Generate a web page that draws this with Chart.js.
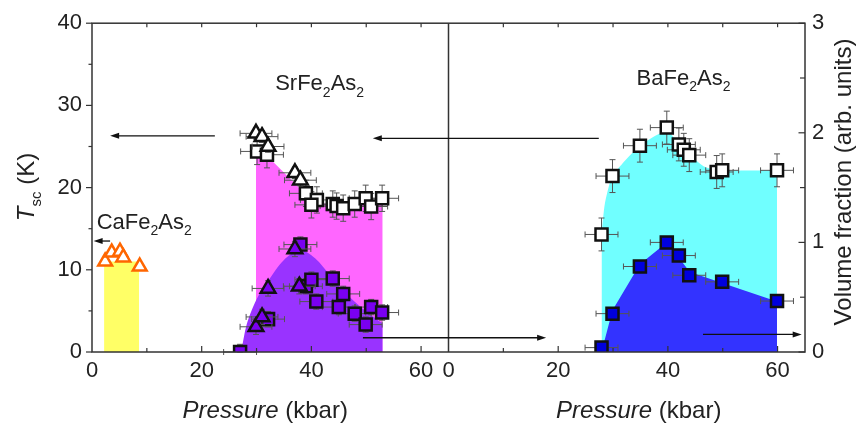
<!DOCTYPE html>
<html>
<head>
<meta charset="utf-8">
<script src="https://cdn.jsdelivr.net/npm/chart.js@4.4.0/dist/chart.umd.min.js"></script>
<style>
  html, body { margin: 0; padding: 0; background: #fff; }
</style>
</head>
<body>
<canvas id="chart" width="858" height="425"></canvas>
<script>
// axe x commun : panneau gauche 0-65, panneau BaFe2As2 decale de 65
const SHIFT = 65;
const X_MAX = 130;

const xTickLabels = [0, 20, 40, 60];
const tscMax = 40;
const volMax = 3;

// CaFe2As2 (Tsc)
const caP = [2.4, 3.6, 5.1, 5.7, 8.7];
const caTsc = [11.0, 12.1, 12.2, 11.5, 10.4];

// SrFe2As2 (Tsc)
const srTriP = [29.9, 31.0, 32.1, 37.0, 38.0];
const srTriTsc = [26.6, 26.2, 25.0, 21.8, 20.9];
const srSqP = [30.1, 31.9, 39.0, 41.0, 40.0, 43.9, 44.6, 45.8, 47.9, 49.9, 50.9, 52.9];
const srSqTsc = [24.4, 24.0, 19.3, 18.5, 17.9, 18.0, 17.75, 17.5, 18.0, 18.7, 17.7, 18.7];

// SrFe2As2 (fraction volumique)
const srTriVolP = [29.9, 31.0, 32.1, 37.0, 37.8];
const srTriVol = [0.23, 0.32, 0.58, 0.94, 0.60];
const srSqVolP = [27.0, 32.1, 38.0, 39.0, 40.0, 40.9, 43.9, 45.8, 45.0, 47.9, 49.9, 50.9, 52.9];
const srSqVol = [0.0, 0.30, 0.98, 0.60, 0.66, 0.46, 0.67, 0.53, 0.41, 0.35, 0.25, 0.41, 0.36];

// BaFe2As2
const baP = [27.9, 29.9, 34.9, 39.8, 42.0, 42.9, 43.9, 48.9, 49.9, 59.9];
const baTsc = [14.3, 21.4, 25.1, 27.3, 25.25, 24.6, 23.95, 21.9, 22.1, 22.1];
const baVolP = [27.9, 29.9, 34.9, 39.8, 42.0, 43.9, 49.9, 59.9];
const baVol = [0.04, 0.35, 0.78, 1.0, 0.88, 0.70, 0.64, 0.465];

// zones colorees
const caZoneP = [2.2, 8.6];
const caZoneT = [11, 11];
const srZoneP = [29.9, 32, 37, 40, 45, 50, 53];
const srZoneT = [24.4, 23.8, 20.5, 18.3, 17.8, 18.2, 18.5];
const srVolZoneP = [27.2, 28.2, 29.9, 32, 35, 38, 41, 44, 47, 50, 53];
const srVolZone = [0, 0.25, 0.47, 0.64, 0.84, 0.93, 0.84, 0.66, 0.50, 0.37, 0.26];
const baZoneP = [27.9, 28.5, 29.9, 34.9, 39.8, 42, 44, 46.5, 49, 59.9];
const baZoneT = [14.3, 18, 21.4, 25.1, 26.9, 25.3, 24, 22.6, 22.1, 22.1];
const baVolZoneP = [27.9, 29.9, 34.9, 39.8, 42, 44, 49.9, 59.9];
const baVolZone = [0, 0.38, 0.8, 1.0, 0.86, 0.73, 0.63, 0.46];

// fleches : [x depart, y depart, x pointe, y pointe, axe]
const arrows = [
  [22.4, 26.3, 3.3, 26.3, 'y'],
  [SHIFT + 27.4, 26.0, 51.2, 26.0, 'y'],
  [3.3, 13.5, 0.3, 13.5, 'y'],
  [49.4, 0.13, 82.8, 0.13, 'y1'],
  [111.4, 0.16, 129.4, 0.16, 'y1']
];

// noms des composes : [morceaux, x, y (ligne de base)]
const compounds = [
  [['SrFe', '2', 'As', '2'], 33.4, 31.85],
  [['BaFe', '2', 'As', '2'], 99.3, 32.5],
  [['CaFe', '2', 'As', '2'], 0.86, 15.0]
];

const FONT = '"Liberation Sans", Arial, Helvetica, sans-serif';

const pts = (xs, ys, shift = 0) => xs.map((x, i) => ({ x: x + shift, y: ys[i] }));

function markers(label, xs, ys, opts) {
  return Object.assign({
    label,
    data: pts(xs, ys, opts.shift || 0),
    showLine: false,
    pointRadius: 8.5,
    pointBorderWidth: 2.5,
    pointBorderColor: '#111',
    pointBackgroundColor: '#fff',
    yAxisID: 'y',
    order: 1
  }, opts);
}

function zone(label, xs, ys, color, opts) {
  return Object.assign({
    label,
    data: pts(xs, ys, opts.shift || 0),
    borderWidth: 0,
    pointRadius: 0,
    fill: 'origin',
    backgroundColor: color,
    yAxisID: 'y',
    order: 10
  }, opts);
}

const datasets = [
  zone('Ca zone', caZoneP, caZoneT, '#ffff66', {}),
  zone('Sr Tsc zone', srZoneP, srZoneT, '#ff66ff', {}),
  zone('Sr vol zone', srVolZoneP, srVolZone, '#9933ff', { yAxisID: 'y1', order: 9, tension: 0.3 }),
  zone('Ba Tsc zone', baZoneP, baZoneT, '#70ffff', { shift: SHIFT, tension: 0.2 }),
  zone('Ba vol zone', baVolZoneP, baVolZone, '#3333ff', { shift: SHIFT, yAxisID: 'y1', order: 9 }),

  markers('Ca Tsc', caP, caTsc, { pointStyle: 'triangle', pointBorderColor: '#ff6600', pointRadius: 8 }),
  markers('Sr Tsc tri', srTriP, srTriTsc, { pointStyle: 'triangle', errX: 2.9, errY: 0.7 }),
  markers('Sr Tsc sq', srSqP, srSqTsc, { pointStyle: 'rect', errX: 3, errY: 1.6 }),
  markers('Sr vol tri', srTriVolP, srTriVol, { pointStyle: 'triangle', yAxisID: 'y1', pointBackgroundColor: '#7a00f0', errX: 2.9, errY: 0.07 }),
  markers('Sr vol sq', srSqVolP, srSqVol, { pointStyle: 'rect', yAxisID: 'y1', pointBackgroundColor: '#7a00f0', errX: 3, errY: 0.07 }),
  markers('Ba Tsc', baP, baTsc, { pointStyle: 'rect', shift: SHIFT, errX: 3, errY: 2 }),
  markers('Ba vol', baVolP, baVol, { pointStyle: 'rect', shift: SHIFT, yAxisID: 'y1', pointBackgroundColor: '#0000dd', errX: 3, errY: 0.03 })
];

function line(ctx, x0, y0, x1, y1) {
  ctx.beginPath();
  ctx.moveTo(x0, y0);
  ctx.lineTo(x1, y1);
  ctx.stroke();
}

// texte avec indices
function richText(ctx, parts, x, y, size, align) {
  const sub = Math.round(size * 0.64);
  const fonts = parts.map(p => p.sub ? sub + 'px ' + FONT : (p.italic ? 'italic ' : '') + size + 'px ' + FONT);
  let w = 0;
  parts.forEach((p, i) => { ctx.font = fonts[i]; w += ctx.measureText(p.t).width; });
  let cx = align === 'center' ? x - w / 2 : x;
  parts.forEach((p, i) => {
    ctx.font = fonts[i];
    ctx.fillText(p.t, cx, y + (p.sub ? size * 0.3 : 0));
    cx += ctx.measureText(p.t).width;
  });
}

const errorBars = {
  id: 'errorBars',
  beforeDatasetDraw(chart, args) {
    const ds = chart.data.datasets[args.index];
    if (!ds.errX && !ds.errY) return;
    const { ctx } = chart;
    const xs = chart.scales.x, ys = chart.scales[ds.yAxisID];
    ctx.save();
    ctx.strokeStyle = '#555';
    ctx.lineWidth = 1;
    const cap = 3;
    ds.data.forEach(p => {
      const px = xs.getPixelForValue(p.x), py = ys.getPixelForValue(p.y);
      const xl = xs.getPixelForValue(p.x - ds.errX), xr = xs.getPixelForValue(p.x + ds.errX);
      const yt = ys.getPixelForValue(p.y + ds.errY), yb = ys.getPixelForValue(Math.max(0, p.y - ds.errY));
      line(ctx, xl, py, xr, py);
      line(ctx, xl, py - cap, xl, py + cap);
      line(ctx, xr, py - cap, xr, py + cap);
      line(ctx, px, yt, px, yb);
      line(ctx, px - cap, yt, px + cap, yt);
      line(ctx, px - cap, yb, px + cap, yb);
    });
    ctx.restore();
  }
};

const decor = {
  id: 'decor',
  afterDatasetsDraw(chart) {
    const { ctx, chartArea: a } = chart;
    const { x, y, y1 } = chart.scales;
    ctx.save();
    ctx.strokeStyle = '#333';
    ctx.lineWidth = 1.5;
    ctx.strokeRect(a.left, a.top, a.right - a.left, a.bottom - a.top);
    const xs = x.getPixelForValue(SHIFT);
    line(ctx, xs, a.top, xs, a.bottom);

    ctx.lineWidth = 1.2;
    for (const off of [0, SHIFT]) {
      for (let p = 10; p <= 60; p += 10) {
        const px = x.getPixelForValue(p + off);
        const len = p % 20 === 0 ? 6 : 4;
        line(ctx, px, a.bottom, px, a.bottom - len);
        line(ctx, px, a.top, px, a.top + 4);
      }
    }
    for (let t = 0; t <= tscMax; t += 5) {
      const py = y.getPixelForValue(t);
      line(ctx, a.left - (t % 10 === 0 ? 6 : 3.5), py, a.left, py);
    }
    for (let v = 0; v <= volMax; v += 0.5) {
      const py = y1.getPixelForValue(v);
      line(ctx, a.right - (v % 1 === 0 ? 6.5 : 5), py, a.right, py);
    }

    // fleches
    ctx.strokeStyle = '#111';
    ctx.fillStyle = '#111';
    ctx.lineWidth = 1.3;
    arrows.forEach(([x0, y0, x1, y1v, axis]) => {
      const s = chart.scales[axis];
      const p0 = [x.getPixelForValue(x0), s.getPixelForValue(y0)];
      const p1 = [x.getPixelForValue(x1), s.getPixelForValue(y1v)];
      const dir = Math.sign(p1[0] - p0[0]);
      line(ctx, p0[0], p0[1], p1[0] - dir * 6, p1[1]);
      ctx.beginPath();
      ctx.moveTo(p1[0], p1[1]);
      ctx.lineTo(p1[0] - dir * 9, p1[1] - 3);
      ctx.lineTo(p1[0] - dir * 9, p1[1] + 3);
      ctx.closePath();
      ctx.fill();
    });

    // noms des composes
    ctx.fillStyle = '#222';
    ctx.textBaseline = 'alphabetic';
    ctx.textAlign = 'left';
    compounds.forEach(([parts, cx, cy]) => {
      richText(ctx, parts.map((t, i) => ({ t, sub: i % 2 === 1 })),
        x.getPixelForValue(cx), y.getPixelForValue(cy), 22, 'left');
    });

    // titres des axes
    const bottomY = 418;
    [[0, SHIFT], [SHIFT, X_MAX]].forEach(([lo, hi], i) => {
      const cx = (x.getPixelForValue(lo) + x.getPixelForValue(hi)) / 2 + (i ? 12 : -5);
      richText(ctx, [{ t: 'Pressure', italic: true }, { t: ' (kbar)' }], cx, bottomY, 24, 'center');
    });
    ctx.save();
    ctx.translate(34, 187);
    ctx.rotate(-Math.PI / 2);
    richText(ctx, [{ t: 'T', italic: true }, { t: 'sc', sub: true }, { t: ' (K)' }], 0, 0, 24, 'center');
    ctx.restore();
    ctx.save();
    ctx.translate(851, 182);
    ctx.rotate(-Math.PI / 2);
    richText(ctx, [{ t: 'Volume fraction (arb. units)' }], 0, 0, 24, 'center');
    ctx.restore();
    ctx.restore();
  }
};

const tickFont = { size: 22, family: FONT };

new Chart(document.getElementById('chart'), {
  type: 'line',
  data: { datasets },
  options: {
    responsive: false,
    animation: false,
    devicePixelRatio: 1,
    events: [],
    layout: { padding: { top: 23, right: 0, left: 0, bottom: 0 } },
    plugins: { legend: { display: false }, tooltip: { enabled: false } },
    scales: {
      x: {
        type: 'linear',
        min: 0,
        max: X_MAX,
        afterBuildTicks: s => {
          s.ticks = [0, SHIFT].flatMap(off => xTickLabels.map(v => ({ value: v + off })));
        },
        ticks: {
          autoSkip: false,
          maxRotation: 0,
          padding: 6,
          color: '#222',
          font: tickFont,
          callback: v => (v >= SHIFT ? v - SHIFT : v)
        },
        grid: { display: false, drawTicks: false },
        border: { display: false },
        afterFit: s => { s.height = 73; }
      },
      y: {
        position: 'left',
        min: 0,
        max: tscMax,
        ticks: { stepSize: 10, padding: 10, color: '#222', font: tickFont },
        grid: { display: false, drawTicks: false },
        border: { display: false },
        afterFit: s => { s.width = 92; }
      },
      y1: {
        position: 'right',
        min: 0,
        max: volMax,
        ticks: { stepSize: 1, padding: 7, color: '#222', font: tickFont },
        grid: { display: false, drawTicks: false },
        border: { display: false },
        afterFit: s => { s.width = 53; }
      }
    }
  },
  plugins: [errorBars, decor]
});
</script>
</body>
</html>
